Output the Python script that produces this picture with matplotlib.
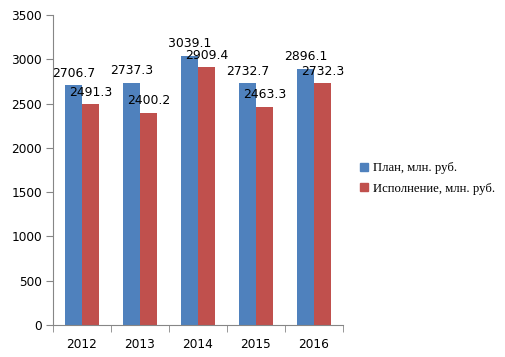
import matplotlib
matplotlib.use("Agg")
import matplotlib.pyplot as plt
import numpy as np
from matplotlib.patches import Patch

years = ["2012", "2013", "2014", "2015", "2016"]
plan = [2706.7, 2737.3, 3039.1, 2732.7, 2896.1]
actual = [2491.3, 2400.2, 2909.4, 2463.3, 2732.3]
series_names = ["План, млн. руб.", "Исполнение, млн. руб."]
colors = ["#4F81BD", "#C0504D"]

fig = plt.figure(figsize=(5.05, 3.57), dpi=100)
ax = fig.add_axes([0.105, 0.0896, 0.574, 0.868])

x = np.arange(len(years))
w = 0.29
b1 = ax.bar(x - w/2, plan, w, color=colors[0])
b2 = ax.bar(x + w/2, actual, w, color=colors[1])

for bars, vals in ((b1, plan), (b2, actual)):
    for r, v in zip(bars, vals):
        ax.annotate(f"{v:.1f}", (r.get_x() + r.get_width()/2, v),
                    xytext=(0, 4), textcoords="offset points",
                    ha="center", va="bottom", fontsize=8.9, color="black")

ax.set_xlim(-0.5, len(years) - 0.5)
ax.set_ylim(0, 3500)
ax.set_yticks(np.arange(0, 3501, 500))
ax.tick_params(axis="y", labelsize=8.7, length=5, color="#868686", pad=3)
ax.set_xticks(x)
ax.set_xticklabels(years)
ax.set_xticks(np.arange(-0.5, len(years), 1), minor=True)
ax.tick_params(axis="x", which="major", length=0, labelsize=8.7, pad=9)
ax.tick_params(axis="x", which="minor", length=5, color="#868686")
for s in ("top", "right"):
    ax.spines[s].set_visible(False)
for s in ("left", "bottom"):
    ax.spines[s].set_color("#868686")

handles = [Patch(color=c) for c in colors]
fig.legend(handles, series_names, loc="center left", bbox_to_anchor=(0.69, 0.5),
           frameon=False, prop={"family": "Liberation Serif", "size": 9.2},
           handlelength=0.6, handleheight=0.6, handletextpad=0.4, labelspacing=0.65)

fig.savefig("out.png", dpi=100)
